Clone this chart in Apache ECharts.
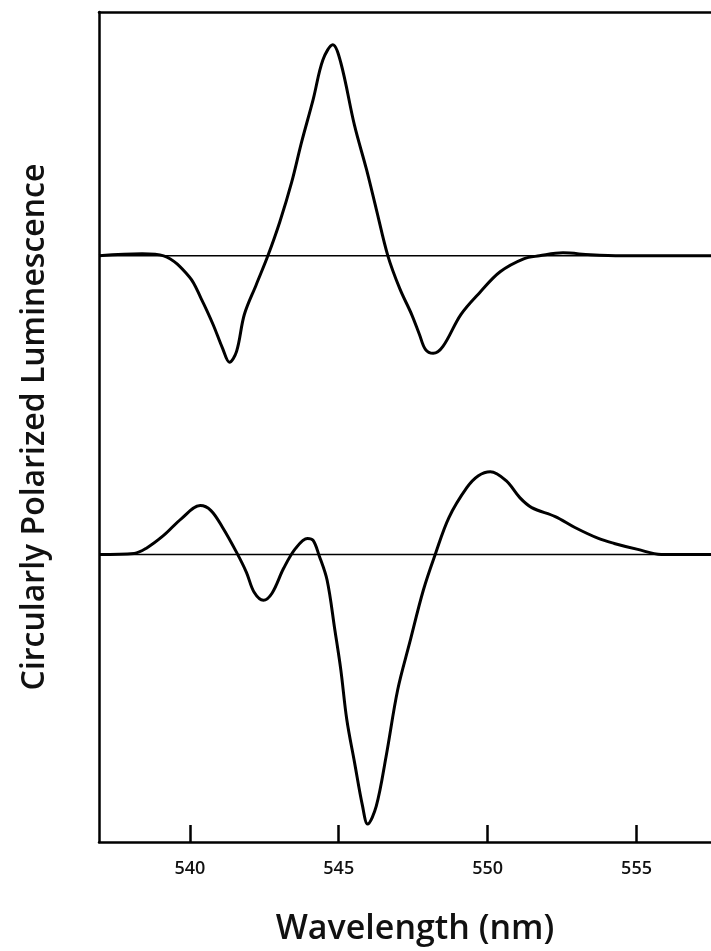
<!DOCTYPE html>
<html>
<head>
<meta charset="utf-8">
<script src="https://cdn.jsdelivr.net/npm/echarts@6/dist/echarts.min.js"></script>
<style>
html,body{margin:0;padding:0;background:#fff;}
#chart{width:711px;height:951px;}
</style>
</head>
<body>
<div id="chart"></div>
<script>
// Upper spectrum (CPL, arbitrary units relative to its baseline)
const topWavelengths = [536.95, 538.4, 539.12, 539.98, 540.38, 540.78, 541.1, 541.33, 541.57, 541.83, 542.23, 542.62, 543.02, 543.42, 543.75, 544.14, 544.47, 544.8, 545.07, 545.53, 545.93, 546.26, 546.65, 547.05, 547.45, 547.71, 547.91, 548.17, 548.5, 549.1, 549.76, 550.42, 551.21, 551.74, 552.53, 553.45, 554.51, 556.0, 557.5];
const topValues = [0, 2, 0, -21, -43, -69, -93, -107, -96, -59, -29, 0, 34, 74, 114, 157, 197, 212, 194, 131, 87, 47, 0, -33, -59, -79, -94, -98, -91, -59, -36, -16, -3, 0, 3, 1, 0, 0, 0];

// Lower spectrum
const bottomWavelengths = [536.95, 538.13, 538.53, 539.12, 539.72, 540.35, 540.71, 541.1, 541.57, 541.9, 542.16, 542.47, 542.76, 543.15, 543.55, 543.95, 544.14, 544.34, 544.61, 544.87, 545.07, 545.27, 545.53, 545.8, 545.97, 546.26, 546.59, 546.98, 547.38, 547.84, 548.24, 548.7, 549.3, 549.69, 550.09, 550.62, 551.08, 551.48, 552.27, 552.93, 553.72, 554.25, 555.04, 555.83, 557.5];
const bottomValues = [0, 1, 6, 19, 36, 49, 44, 27, 2, -18, -38, -46, -39, -14, 6, 16, 14, -1, -26, -76, -116, -166, -209, -253, -271, -253, -203, -136, -89, -36, 0, 37, 67, 79, 83, 74, 57, 47, 38, 27, 16, 11, 5, 0, 0];

// Vertical offsets of the two spectra (stacked display)
const topBaseline = 589;
const bottomBaseline = 289;

const xTicks = [540, 545, 550, 555];
const xMin = 536.95, xMax = 557.5;

const topData = topWavelengths.map((w, i) => [w, topBaseline + topValues[i]]);
const bottomData = bottomWavelengths.map((w, i) => [w, bottomBaseline + bottomValues[i]]);

const chart = echarts.init(document.getElementById('chart'), null, {renderer: 'canvas'});
const font = '"Open Sans", "DejaVu Sans", sans-serif';
chart.setOption({
  animation: false,
  backgroundColor: '#ffffff',
  grid: {left: 99, right: 0, top: 12, bottom: 105, containLabel: false},
  xAxis: [{
    type: 'value', min: xMin, max: xMax, position: 'bottom',
    name: 'Wavelength (nm)', nameLocation: 'middle', nameGap: 70,
    nameTextStyle: {fontFamily: font, fontSize: 34, fontWeight: 600, color: '#111', padding: [0, 0, 0, 20]},
    axisLine: {show: true, onZero: false, lineStyle: {color: '#000', width: 2.5}},
    axisTick: {show: true, inside: true, length: 17, customValues: xTicks, lineStyle: {color: '#000', width: 2.5}},
    axisLabel: {show: true, margin: 18, customValues: xTicks, fontFamily: font, fontSize: 18, fontWeight: 600, color: '#111'},
    splitLine: {show: false}
  }, {
    type: 'value', min: xMin, max: xMax, position: 'top',
    axisLine: {show: true, onZero: false, lineStyle: {color: '#000', width: 2.5}},
    axisTick: {show: false}, axisLabel: {show: false}, splitLine: {show: false}
  }],
  yAxis: [{
    type: 'value', min: 0, max: 834,
    name: 'Circularly Polarized Luminescence', nameLocation: 'middle', nameGap: 48,
    nameTextStyle: {fontFamily: font, fontSize: 32, fontWeight: 600, color: '#111'},
    axisLine: {show: true, onZero: false, lineStyle: {color: '#000', width: 2.5}},
    axisTick: {show: false}, axisLabel: {show: false}, splitLine: {show: false}
  }],
  series: [
    {type: 'line', data: [[xMin, topBaseline], [xMax, topBaseline]], symbol: 'none', lineStyle: {color: '#000', width: 1.5}, silent: true},
    {type: 'line', data: [[xMin, bottomBaseline], [xMax, bottomBaseline]], symbol: 'none', lineStyle: {color: '#000', width: 1.5}, silent: true},
    {type: 'line', data: topData, smooth: 0.35, symbol: 'none', lineStyle: {color: '#000', width: 3}},
    {type: 'line', data: bottomData, smooth: 0.35, symbol: 'none', lineStyle: {color: '#000', width: 3}}
  ]
});
</script>
</body>
</html>
